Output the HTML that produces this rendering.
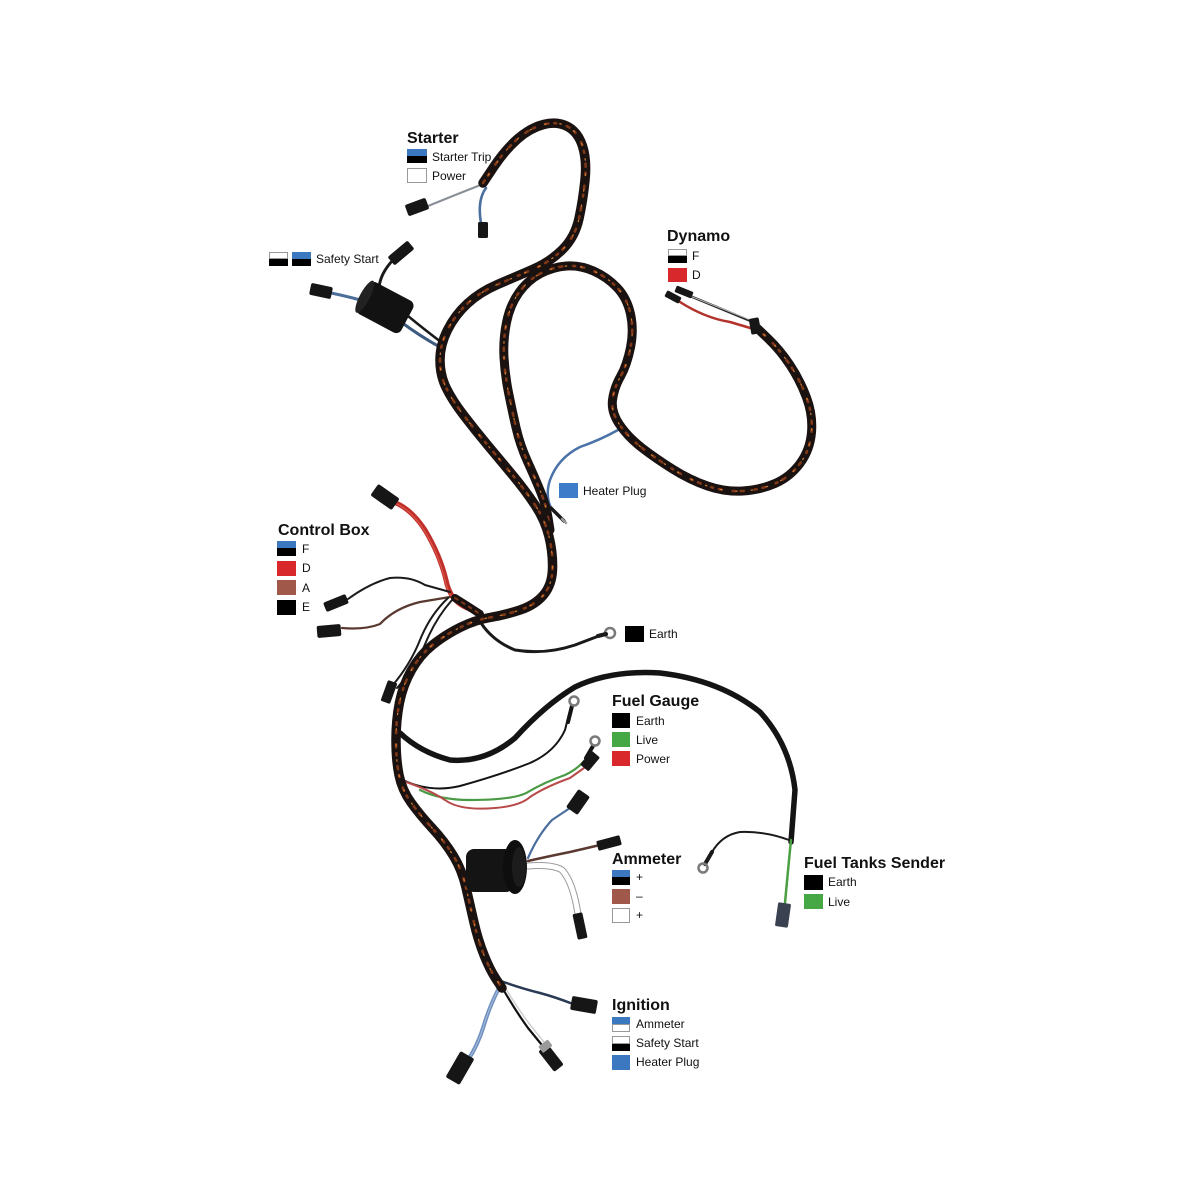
<!DOCTYPE html>
<html>
<head>
<meta charset="utf-8">
<style>
html,body{margin:0;padding:0;background:#fff;}
svg{display:block;}
.t{font-family:"Liberation Sans",Arial,sans-serif;font-weight:bold;font-size:16px;fill:#111;}
.l{font-family:"Liberation Sans",Arial,sans-serif;font-size:12px;fill:#111;}
</style>
</head>
<body>
<svg width="1200" height="1200" viewBox="0 0 1200 1200" xmlns="http://www.w3.org/2000/svg">
<defs>
<path id="pA" d="M483,183 L494,166.5 Q505,150 517.5,139 Q530,128 543.5,124.5 Q557,121 567.5,126.5 Q578,132 582.5,146 Q587,160 585,180 Q583,200 579,218.5 Q575,237 562.5,249.5 Q550,262 532.5,269.5 Q515,277 497.5,284.5 Q480,292 467.5,303.5 Q455,315 447.5,330 Q440,345 440,360 Q440,375 446,387.5 Q452,400 463.5,415 Q475,430 487.5,445 Q500,460 512.5,475 Q525,490 535,505 Q545,520 549,536.5 Q553,553 552.5,569 Q552,585 543.5,595 Q535,605 520,610 Q505,615 490,617.5 Q475,620 460,627.5 Q445,635 432.5,645 Q420,655 411.5,670 Q403,685 399.5,702.5 Q396,720 396,740 Q396,760 399,775 Q402,790 411,802.5 Q420,815 432.5,828.5 Q445,842 453.5,856 Q462,870 466,887.5 Q470,905 474,922.5 Q478,940 484,955 Q490,970 496,979 L502,988"/>
<path id="pB" d="M757,328 L768.5,339 Q780,350 790,365 Q800,380 806.5,397.5 Q813,415 811.5,432.5 Q810,450 800,463.5 Q790,477 775,483.5 Q760,490 742.5,491 Q725,492 707.5,486 Q690,480 672.5,469 Q655,458 641.5,447.5 Q628,437 619.5,424.5 Q611,412 612.5,400 Q614,388 620.5,376.5 Q627,365 630.5,347.5 Q634,330 630.5,314 Q627,298 617,287.5 Q607,277 593.5,271 Q580,265 566.5,266 Q553,267 540.5,273.5 Q528,280 519,292.5 Q510,305 506.5,322.5 Q503,340 504,357.5 Q505,375 508.5,392.5 Q512,410 516,427.5 Q520,445 527.5,461.5 Q535,478 540.5,491.5 Q546,505 548,517.5 L550,530"/>
<path id="pJ" d="M455,598 Q468,606 480,614"/>
</defs>

<!-- ===== thin wires (behind braid) ===== -->
<g fill="none" stroke-linecap="round" stroke-linejoin="round">
  <!-- starter -->
  <path d="M428,206 Q455,195 483,184" stroke="#8a9098" stroke-width="2.2"/>
  <path d="M486,188 Q477,200 481,223" stroke="#4a6e9e" stroke-width="2.6"/>
  <!-- safety start -->
  <path d="M331,293 Q346,296 364,301" stroke="#4c6f9a" stroke-width="3"/>
  <path d="M379,287 Q381,272 394,259" stroke="#1a1a1a" stroke-width="3"/>
  <path d="M401,322 Q420,336 438,346" stroke="#3d5a80" stroke-width="3"/>
  <path d="M408,316 Q425,330 441,342" stroke="#1a1a1a" stroke-width="2.5"/>
  <!-- dynamo -->
  <path d="M690,296 L753,322" stroke="#2a2a2a" stroke-width="2.5"/>
  <path d="M690,296 L753,321" stroke="#cfcfcf" stroke-width="0.8"/>
  <path d="M680,302 Q705,318 730,322 L757,330" stroke="#b3322c" stroke-width="2.5"/>
  <!-- heater plug -->
  <path d="M618,430 Q600,440 580,447 Q558,458 550,480 Q545,495 551,508" stroke="#4a72a8" stroke-width="2.5"/>
  <path d="M551,508 L564,521" stroke="#1a1a1a" stroke-width="3.5"/>
  <path d="M562,519 L566,523" stroke="#9a9a9a" stroke-width="2.5"/>
  <!-- control box -->
  <path d="M396,503 Q412,510 425,530 Q440,555 446,580 Q450,600 465,607 L480,614" stroke="#c0302a" stroke-width="5"/>
  <path d="M396,503 Q412,510 425,530 Q440,555 446,580 Q450,600 465,607 L480,614" stroke="#e05a50" stroke-width="1" transform="translate(-1,0)"/>
  <path d="M348,599 Q370,583 390,578 Q410,576 425,585 L450,592" stroke="#1a1a1a" stroke-width="2"/>
  <path d="M342,628 Q365,630 380,624 Q395,608 420,602 L450,597" stroke="#5a3a30" stroke-width="2.2"/>
  <path d="M448,598 Q430,615 420,640 Q410,665 392,686" stroke="#1a1a1a" stroke-width="2"/>
  <path d="M452,600 Q436,618 426,642 Q416,667 397,688" stroke="#1a1a1a" stroke-width="2"/>
  <!-- earth -->
  <path d="M478,618 Q490,640 515,650 Q545,655 575,645 L604,634" stroke="#1a1a1a" stroke-width="3"/>
  <!-- fuel gauge thick / tank -->
  <path d="M400,733 Q420,752 450,760 Q485,763 515,738 Q545,705 575,687 Q610,670 660,673 Q720,680 760,712 Q790,745 795,790 L791,842" stroke="#141414" stroke-width="5.5"/>
  <path d="M791,840 Q788,870 785,903" stroke="#4aa040" stroke-width="2.5"/>
  <path d="M789,840 Q765,831 740,832 Q722,835 712,852 L706,864" stroke="#1a1a1a" stroke-width="2"/>
  <path d="M712,852 L705,864" stroke="#1a1a1a" stroke-width="4"/>
  <!-- fuel gauge thin -->
  <path d="M403,780 Q430,793 460,786 Q500,775 530,763 Q555,752 565,730 L571,706" stroke="#141414" stroke-width="2"/>
  <path d="M568,722 L572,706" stroke="#141414" stroke-width="4"/>
  <path d="M420,790 Q440,800 470,800 Q515,800 528,792 Q545,782 565,775 Q580,768 588,756" stroke="#4a9a45" stroke-width="2.2"/>
  <path d="M586,758 L593,746" stroke="#141414" stroke-width="4"/>
  <path d="M403,781 Q430,790 445,800 Q460,811 495,808 Q520,806 530,797 Q545,787 570,778 L584,768" stroke="#b84a4a" stroke-width="2"/>
  <!-- ammeter -->
  <path d="M528,858 Q538,835 552,820 L570,808" stroke="#4a6e9e" stroke-width="2.2"/>
  <path d="M528,861 Q550,856 570,852 L600,845" stroke="#5a3a30" stroke-width="2.5"/>
  <path d="M528,866 Q552,864 562,870 Q573,882 578,914" stroke="#9a9a9a" stroke-width="7"/>
  <path d="M528,866 Q552,864 562,870 Q573,882 578,914" stroke="#ffffff" stroke-width="5"/>
  <!-- ignition -->
  <path d="M498,980 Q520,988 540,993 Q555,997 573,1004" stroke="#2a3a55" stroke-width="2.5"/>
  <path d="M500,986 Q490,1005 484,1025 Q478,1045 468,1060" stroke="#6f8fbf" stroke-width="4"/>
  <path d="M500,986 Q490,1005 484,1025 Q478,1045 468,1060" stroke="#a8bedc" stroke-width="1"/>
  <path d="M503,989 Q515,1010 528,1028 L546,1050" stroke="#111" stroke-width="2.2"/>
  <path d="M506,989 Q518,1009 531,1026 L548,1047" stroke="#cfcfcf" stroke-width="1.5"/>
</g>

<!-- ===== braided harness ===== -->
<g fill="none" stroke-linecap="round" stroke-linejoin="round">
  <use href="#pB" stroke="#1a1210" stroke-width="9"/>
  <use href="#pB" stroke="#7e3818" stroke-width="2.6" stroke-dasharray="3 6 2 11"/>
  <use href="#pB" stroke="#d07a30" stroke-width="1.2" stroke-dasharray="1.5 14" stroke-dashoffset="6"/>
  <use href="#pA" stroke="#1a1210" stroke-width="9.5"/>
  <use href="#pA" stroke="#7e3818" stroke-width="2.6" stroke-dasharray="3 6 2 11"/>
  <use href="#pA" stroke="#d07a30" stroke-width="1.2" stroke-dasharray="1.5 14" stroke-dashoffset="6"/>
  <use href="#pJ" stroke="#1a1210" stroke-width="8"/>
  <use href="#pJ" stroke="#7e3818" stroke-width="2" stroke-dasharray="3 5"/>
</g>

<!-- ===== connectors / components ===== -->
<g fill="#161616">
  <rect x="-11" y="-6" width="22" height="12" rx="2" transform="translate(417,207) rotate(-20)"/>
  <rect x="-5" y="-8" width="10" height="16" rx="1.5" transform="translate(483,230)"/>
  <rect x="-11" y="-6" width="22" height="12" rx="2" transform="translate(321,291) rotate(12)"/>
  <rect x="-13" y="-5.5" width="26" height="11" rx="2" transform="translate(401,253) rotate(-40)"/>
  <g transform="translate(386,308) rotate(28)">
    <rect x="-26" y="-18" width="50" height="36" rx="6" fill="#121212"/>
    <ellipse cx="-24" cy="0" rx="5" ry="18" fill="#222"/>
  </g>
  <rect x="-8" y="-3.5" width="16" height="7" rx="1.5" transform="translate(673,297) rotate(28)"/>
  <rect x="-9" y="-3.5" width="18" height="7" rx="1.5" transform="translate(684,292) rotate(22)"/>
  <rect x="-5" y="-8" width="10" height="16" rx="1.5" transform="translate(755,326) rotate(-10)"/>
  <rect x="-13" y="-7" width="26" height="14" rx="2" transform="translate(385,497) rotate(35)"/>
  <rect x="-12" y="-5" width="24" height="10" rx="2" transform="translate(336,603) rotate(-22)"/>
  <rect x="-12" y="-6" width="24" height="12" rx="2" transform="translate(329,631) rotate(-5)"/>
  <rect x="-5" y="-11" width="10" height="22" rx="1.5" transform="translate(389,692) rotate(20)"/>
  <rect x="-5.5" y="-9" width="11" height="18" rx="1.5" transform="translate(590,761) rotate(40)"/>
  <rect x="-7" y="-11" width="14" height="22" rx="2" transform="translate(578,802) rotate(35)"/>
  <rect x="-12" y="-5" width="24" height="10" rx="1.5" transform="translate(609,843) rotate(-15)"/>
  <rect x="-5" y="-13" width="10" height="26" rx="1.5" transform="translate(580,926) rotate(-12)"/>
  <rect x="466" y="849" width="48" height="43" rx="8" fill="#141414"/>
  <ellipse cx="515" cy="867" rx="12" ry="27" fill="#0e0e0e"/>
  <ellipse cx="519" cy="867" rx="7" ry="20" fill="#1c1c1c"/>
  <rect x="-6.5" y="-12" width="13" height="24" rx="1.5" fill="#3a4150" transform="translate(783,915) rotate(8)"/>
  <rect x="-13" y="-7" width="26" height="14" rx="2" transform="translate(584,1005) rotate(10)"/>
  <rect x="-8" y="-15" width="16" height="30" rx="2" transform="translate(460,1068) rotate(30)"/>
  <rect x="-6" y="-13" width="12" height="26" rx="2" transform="translate(551,1058) rotate(-38)"/>
  <rect x="-6" y="-5" width="12" height="8" rx="1" fill="#9a9a9a" transform="translate(546,1047) rotate(-38)"/>
</g>
<g fill="none" stroke="#7a7a7a" stroke-width="2.5">
  <circle cx="610" cy="633" r="5"/>
  <circle cx="574" cy="701" r="4.5"/>
  <circle cx="595" cy="741" r="4.5"/>
  <circle cx="703" cy="868" r="4.5"/>
</g>
<path d="M598,636 L606,634" stroke="#1a1a1a" stroke-width="4" stroke-linecap="round"/>

<!-- ===== legends ===== -->
<text class="t" x="407" y="143">Starter</text>
<rect x="407" y="149" width="20" height="7" fill="#3b78c0"/>
<rect x="407" y="156" width="20" height="7" fill="#000"/>
<text class="l" x="432" y="161">Starter Trip</text>
<rect x="407.5" y="168.5" width="19" height="14" fill="#fff" stroke="#999"/>
<text class="l" x="432" y="180">Power</text>

<rect x="269.5" y="252.5" width="18" height="6" fill="#fff" stroke="#999"/>
<rect x="269" y="259" width="19" height="7" fill="#000"/>
<rect x="292" y="252" width="19" height="7" fill="#3b78c0"/>
<rect x="292" y="259" width="19" height="7" fill="#000"/>
<text class="l" x="316" y="263">Safety Start</text>

<text class="t" x="667" y="241">Dynamo</text>
<rect x="668.5" y="249.5" width="18" height="6" fill="#fff" stroke="#999"/>
<rect x="668" y="256" width="19" height="7" fill="#000"/>
<text class="l" x="692" y="260">F</text>
<rect x="668" y="268" width="19" height="14" fill="#d9282b"/>
<text class="l" x="692" y="279">D</text>

<rect x="559" y="483" width="19" height="15" fill="#3d7cc9"/>
<text class="l" x="583" y="495">Heater Plug</text>

<text class="t" x="278" y="535">Control Box</text>
<rect x="277" y="541" width="19" height="7" fill="#3b78c0"/>
<rect x="277" y="548" width="19" height="8" fill="#000"/>
<text class="l" x="302" y="553">F</text>
<rect x="277" y="561" width="19" height="15" fill="#d9282b"/>
<text class="l" x="302" y="572">D</text>
<rect x="277" y="580" width="19" height="15" fill="#a0584a"/>
<text class="l" x="302" y="592">A</text>
<rect x="277" y="600" width="19" height="15" fill="#000"/>
<text class="l" x="302" y="611">E</text>

<rect x="625" y="626" width="19" height="16" fill="#000"/>
<text class="l" x="649" y="638">Earth</text>

<text class="t" x="612" y="706">Fuel Gauge</text>
<rect x="612" y="713" width="18" height="15" fill="#000"/>
<text class="l" x="636" y="725">Earth</text>
<rect x="612" y="732" width="18" height="15" fill="#45a845"/>
<text class="l" x="636" y="744">Live</text>
<rect x="612" y="751" width="18" height="15" fill="#d9282b"/>
<text class="l" x="636" y="763">Power</text>

<text class="t" x="612" y="864">Ammeter</text>
<rect x="612" y="870" width="18" height="7" fill="#3b78c0"/>
<rect x="612" y="877" width="18" height="8" fill="#000"/>
<text class="l" x="636" y="881">+</text>
<rect x="612" y="889" width="18" height="15" fill="#a0584a"/>
<text class="l" x="636" y="900">–</text>
<rect x="612.5" y="908.5" width="17" height="14" fill="#fff" stroke="#999"/>
<text class="l" x="636" y="919">+</text>

<text class="t" x="804" y="868">Fuel Tanks Sender</text>
<rect x="804" y="875" width="19" height="15" fill="#000"/>
<text class="l" x="828" y="886">Earth</text>
<rect x="804" y="894" width="19" height="15" fill="#45a845"/>
<text class="l" x="828" y="906">Live</text>

<text class="t" x="612" y="1010">Ignition</text>
<rect x="612" y="1017" width="18" height="7" fill="#3b78c0"/>
<rect x="612.5" y="1024.5" width="17" height="7" fill="#fff" stroke="#999"/>
<text class="l" x="636" y="1028">Ammeter</text>
<rect x="612.5" y="1036.5" width="17" height="7" fill="#fff" stroke="#999"/>
<rect x="612" y="1044" width="18" height="7" fill="#000"/>
<text class="l" x="636" y="1047">Safety Start</text>
<rect x="612" y="1055" width="18" height="15" fill="#3b78c0"/>
<text class="l" x="636" y="1066">Heater Plug</text>
</svg>
</body>
</html>
